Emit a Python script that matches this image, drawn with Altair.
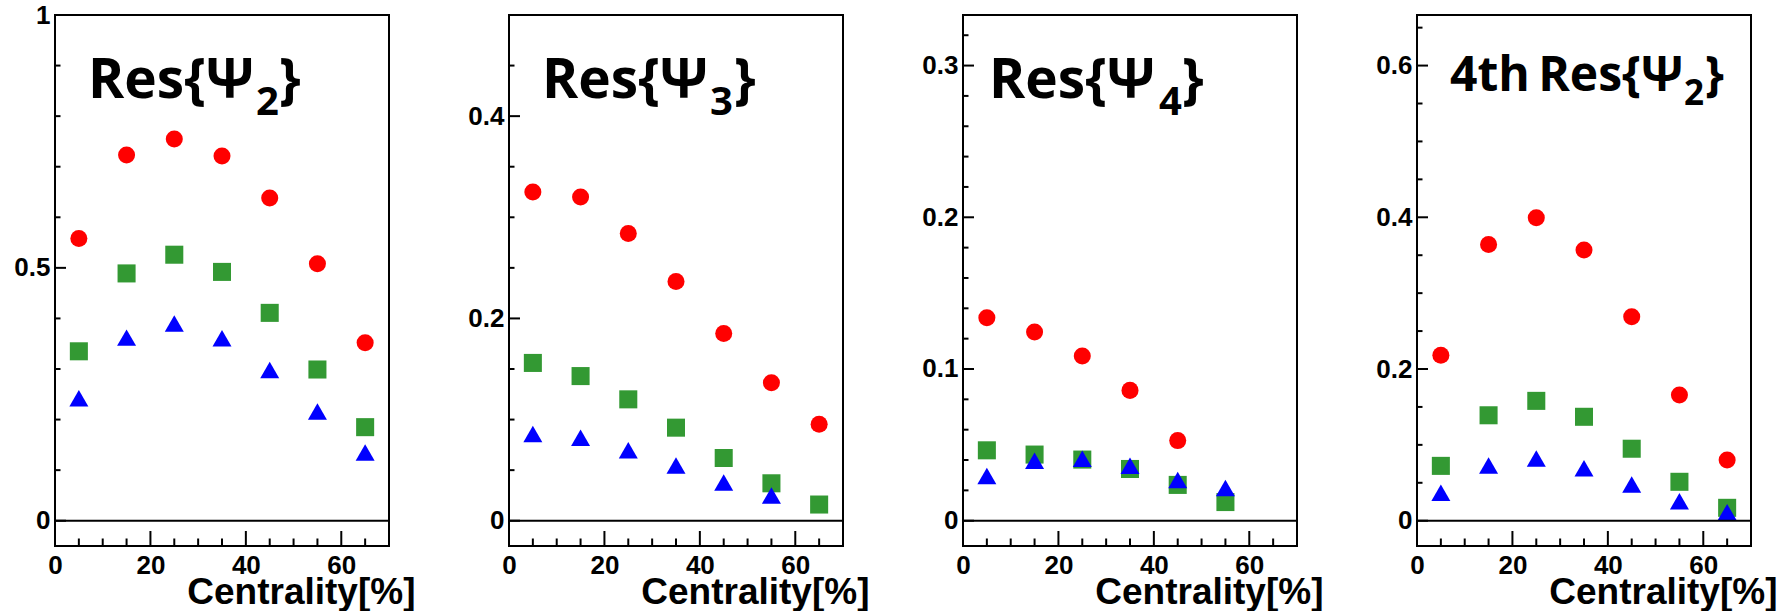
import altair as alt
import pandas as pd

# ---------------- data ----------------
centrality = [5, 15, 25, 35, 45, 55, 65]

psi2_red = [0.558, 0.723, 0.755, 0.721, 0.638, 0.508, 0.352]
psi2_green = [0.335, 0.489, 0.526, 0.492, 0.411, 0.299, 0.185]
psi2_blue = [0.242, 0.362, 0.390, 0.361, 0.298, 0.216, 0.135]

psi3_red = [0.325, 0.320, 0.284, 0.2365, 0.185, 0.1365, 0.0954]
psi3_green = [0.156, 0.143, 0.120, 0.092, 0.062, 0.037, 0.016]
psi3_blue = [0.0858, 0.082, 0.0696, 0.0546, 0.0377, 0.025]

psi4_red = [0.1338, 0.1244, 0.1085, 0.0859, 0.0528]
psi4_green = [0.0464, 0.0436, 0.0403, 0.0341, 0.0236, 0.0123]
psi4_blue = [0.0295, 0.0395, 0.0408, 0.0362, 0.0269, 0.0215]

psi2_4th_red = [0.218, 0.364, 0.3995, 0.357, 0.269, 0.1656, 0.080]
psi2_4th_green = [0.0723, 0.139, 0.158, 0.137, 0.0949, 0.0513, 0.017]
psi2_4th_blue = [0.0369, 0.0728, 0.082, 0.0692, 0.0477, 0.0256, 0.0113]

x_major = [0, 20, 40, 60]
x_minor = [5, 10, 15, 25, 30, 35, 45, 50, 55, 65]

p1_ylabels = [0, 0.5, 1]
p1_yminor = [0.1, 0.2, 0.3, 0.4, 0.6, 0.7, 0.8, 0.9]
p2_ylabels = [0, 0.2, 0.4]
p2_yminor = [0.05, 0.1, 0.15, 0.25, 0.3, 0.35, 0.45]
p3_ylabels = [0, 0.1, 0.2, 0.3]
p3_yminor = [0.02, 0.04, 0.06, 0.08, 0.12, 0.14, 0.16, 0.18, 0.22, 0.24,
             0.26, 0.28, 0.32]
p4_ylabels = [0, 0.2, 0.4, 0.6]
p4_yminor = [0.05, 0.1, 0.15, 0.25, 0.3, 0.35, 0.45, 0.5, 0.55, 0.65]

# ---------------- style ----------------
W, H = 334, 531
RED, GREEN, BLUE = "#ff0000", "#339933", "#0000ff"
SERIES = ["red", "green", "blue"]
LABEL_FONT = "Liberation Sans"
TITLE_FONT = "Open Sans"
LABEL_SIZE = 26


def panel(red, green, blue, ydomain, ylabels, yminor, pieces):
    xs = alt.Scale(domain=[0, 70], nice=False, zero=False)
    ys = alt.Scale(domain=ydomain, nice=False, zero=False)
    common = dict(labelFont=LABEL_FONT, labelFontWeight="bold",
                  labelFontSize=LABEL_SIZE, labelColor="black",
                  labelFlush=False, ticks=False, domain=False, grid=False)
    xaxis = alt.Axis(
        values=x_major, format="d", title="Centrality[%]", labelPadding=6,
        titleFont=LABEL_FONT, titleFontWeight="bold", titleFontSize=37,
        titleColor="black", titleX=360, titleY=57, titleAlign="right",
        titleBaseline="alphabetic", **common)
    yaxis = alt.Axis(values=ylabels, format="~g", title=None, labelPadding=5,
                     **common)

    rows = []
    for name, vals in zip(SERIES, [red, green, blue]):
        for c, v in zip(centrality, vals):
            rows.append({"series": name, "c": c, "v": v})
    df = pd.DataFrame(rows)

    points = alt.Chart(df).mark_point(filled=True, opacity=1, strokeWidth=0).encode(
        x=alt.X("c:Q", scale=xs, axis=xaxis),
        y=alt.Y("v:Q", scale=ys, axis=yaxis),
        color=alt.Color("series:N", scale=alt.Scale(domain=SERIES, range=[RED, GREEN, BLUE]), legend=None),
        shape=alt.Shape("series:N", scale=alt.Scale(domain=SERIES, range=["circle", "square", "triangle-up"]), legend=None),
        size=alt.Size("series:O", scale=alt.Scale(domain=SERIES, range=[290, 361, 400]), legend=None),
    )

    zero = alt.Chart(pd.DataFrame({"v": [0]})).mark_rule(color="black", strokeWidth=2).encode(
        y=alt.Y("v:Q", scale=ys, axis=yaxis))

    def xt(vals, length):
        return alt.Chart(pd.DataFrame({"c": vals})).mark_rule(color="black", strokeWidth=2).encode(
            x=alt.X("c:Q", scale=xs, axis=xaxis), y=alt.value(H), y2=alt.value(H - length))

    def yt(vals, length):
        return alt.Chart(pd.DataFrame({"v": vals})).mark_rule(color="black", strokeWidth=2).encode(
            y=alt.Y("v:Q", scale=ys, axis=yaxis), x=alt.value(0), x2=alt.value(length))

    one = pd.DataFrame({"a": [0]})
    texts = []
    for text, size, align, px, py in pieces:
        texts.append(alt.Chart(one).mark_text(
            text=text, font=TITLE_FONT, fontWeight="bold", fontSize=size,
            align=align, baseline="alphabetic", color="black").encode(
            x=alt.value(px), y=alt.value(py)))

    return alt.layer(
        points, zero, xt(x_major, 15), xt(x_minor, 7.5), yt(ylabels, 11), yt(yminor, 5.5),
        *texts
    ).properties(width=W, height=H)


p1 = panel(psi2_red, psi2_green, psi2_blue, [-0.05, 1.0], p1_ylabels, p1_yminor,
           [("Res{Ψ", 55, "right", 199, 82.5), ("2", 40, "left", 201, 100),
            ("}", 55, "left", 224, 82.5)])
p2 = panel(psi3_red, psi3_green, psi3_blue, [-0.025, 0.5], p2_ylabels, p2_yminor,
           [("Res{Ψ", 55, "right", 199, 82.5), ("3", 40, "left", 201, 100),
            ("}", 55, "left", 225, 82.5)])
p3 = panel(psi4_red, psi4_green, psi4_blue, [-0.016667, 0.33333], p3_ylabels, p3_yminor,
           [("Res{Ψ", 55, "right", 192, 82.5), ("4", 40, "left", 196, 100),
            ("}", 55, "left", 219, 82.5)])
p4 = panel(psi2_4th_red, psi2_4th_green, psi2_4th_blue, [-0.033333, 0.66667], p4_ylabels, p4_yminor,
           [("4th", 48, "left", 33, 76), ("Res{Ψ", 48, "right", 266, 76),
            ("2", 35, "left", 267, 90), ("}", 48, "left", 288, 76)])

chart = alt.hconcat(p1, p2, p3, p4, spacing=120, bounds="flush").properties(
    padding={"left": 12, "top": 1, "right": 5, "bottom": 0},
    background="white",
).configure_view(
    stroke="black", strokeWidth=2
).configure_axis(
    grid=False, domain=False, ticks=False, tickSize=0,
    labelFont=LABEL_FONT, labelFontWeight="bold", labelFontSize=LABEL_SIZE, labelColor="black",
)

chart.save("out.html", embed_options={"renderer": "svg", "actions": False})
